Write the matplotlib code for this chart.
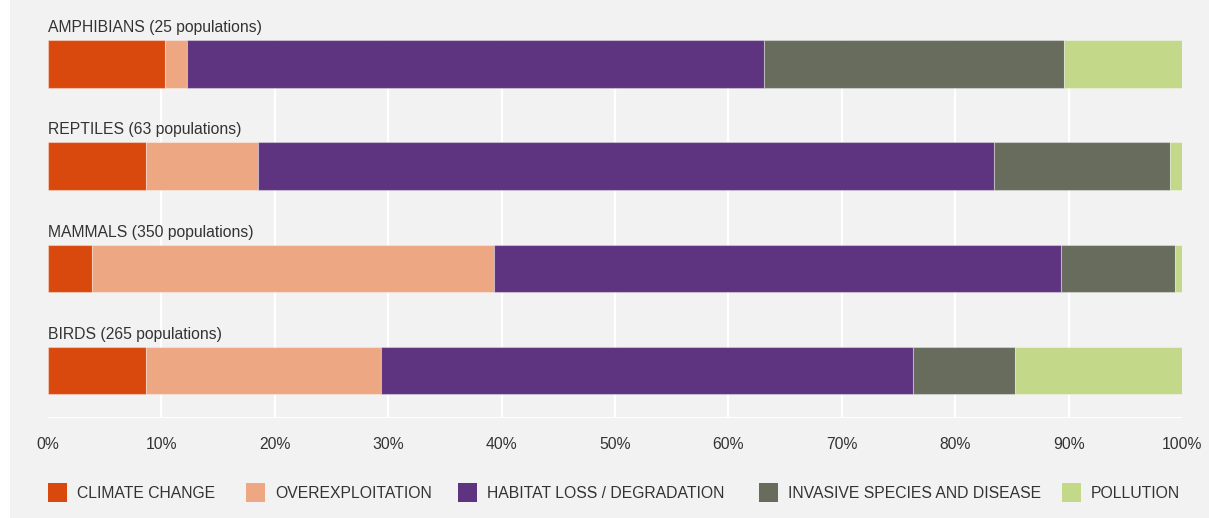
import matplotlib
matplotlib.use("Agg")
import matplotlib.pyplot as plt
from matplotlib.patches import Rectangle

plt.rcParams['font.family'] = ['Liberation Sans', 'DejaVu Sans']

# Share of population declines attributed to each threat (%)
groups = ["AMPHIBIANS (25 populations)", "REPTILES (63 populations)",
          "MAMMALS (350 populations)", "BIRDS (265 populations)"]
threats = ["CLIMATE CHANGE", "OVEREXPLOITATION", "HABITAT LOSS / DEGRADATION",
           "INVASIVE SPECIES AND DISEASE", "POLLUTION"]
climate_change = [10.3, 8.6, 3.9, 8.6]
overexploitation = [2.0, 9.9, 35.4, 20.8]
habitat_loss = [50.8, 64.9, 50.0, 46.9]
invasive_species = [26.5, 15.5, 10.1, 9.0]
pollution = [10.4, 1.1, 0.6, 14.7]
tick_values = [0, 10, 20, 30, 40, 50, 60, 70, 80, 90, 100]
tick_labels = [f"{v}%" for v in tick_values]

colors = ["#D9490E", "#EDA883", "#5E3380", "#686C5D", "#C3D889"]
panel_bg = "#F2F2F2"
text_color = "#333333"
fs = 11.3

W, H = 1209, 518
fig = plt.figure(figsize=(W / 100, H / 100), dpi=100)
fig.patch.set_facecolor("white")
fig.add_artist(Rectangle((10 / W, 0), 1 - 10 / W, 1, transform=fig.transFigure,
                         facecolor=panel_bg, edgecolor="none", zorder=-10))

def fx(px):
    return px / W

def fy(py):
    return 1 - py / H

ax = fig.add_axes([fx(48), fy(418), fx(1182) - fx(48), 418 / H])
ax.set_facecolor("none")

bar_h = 0.465
ypos = list(range(len(groups)))
series = [climate_change, overexploitation, habitat_loss, invasive_species, pollution]
left = [0.0] * len(groups)
for vals, col in zip(series, colors):
    ax.barh(ypos, vals, left=left, height=bar_h, color=col,
            edgecolor=(1, 1, 1, 0.35), linewidth=0.8, zorder=3)
    left = [l + v for l, v in zip(left, vals)]

ax.set_xlim(0, 100)
ax.set_ylim(3 + bar_h, -0.626)

# white vertical guides between the bars
ax.vlines(tick_values[1:-1], ymin=-bar_h / 2, ymax=3 + bar_h, color="white",
          linewidth=1.6, zorder=1)
ax.axhline(3 + bar_h, color="white", linewidth=2.2, zorder=2)

for i, g in enumerate(groups):
    ax.text(0, i - 0.31, g, ha="left", va="baseline", fontsize=fs,
            color=text_color)

for s in ax.spines.values():
    s.set_visible(False)
ax.set_yticks([])
ax.set_xticks(tick_values)
ax.set_xticklabels(tick_labels, fontsize=fs, color=text_color)
ax.tick_params(axis="x", length=0, pad=14)

# legend row
legend_x = [48, 246, 458, 759, 1062]
for xpx, lab, col in zip(legend_x, threats, colors):
    fig.add_artist(Rectangle((fx(xpx), fy(502)), 19 / W, 19 / H,
                             transform=fig.transFigure, facecolor=col,
                             edgecolor="none"))
    fig.text(fx(xpx + 29), fy(493), lab, ha="left", va="center",
             fontsize=fs, color=text_color)

fig.savefig("out.png", dpi=100, facecolor=fig.get_facecolor())
